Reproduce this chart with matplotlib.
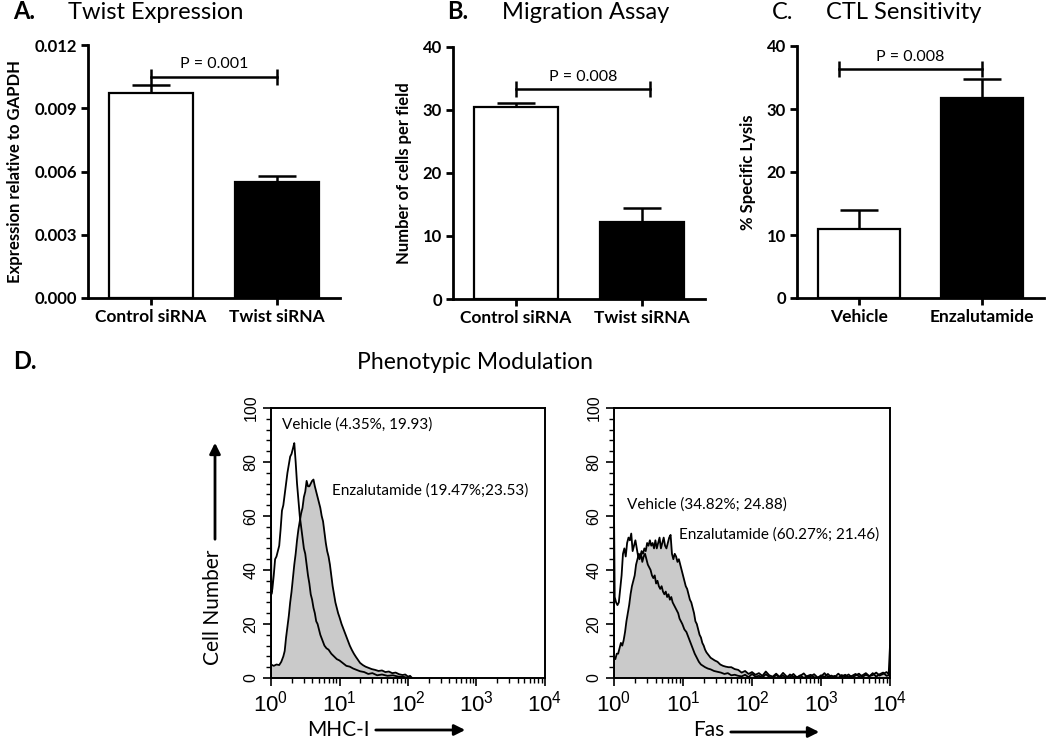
import numpy as np
import matplotlib
matplotlib.use("Agg")
import matplotlib.pyplot as plt
from matplotlib.ticker import MultipleLocator, FixedLocator, NullFormatter, LogLocator

plt.rcParams['font.family'] = ['Lato', 'DejaVu Sans']
plt.rcParams['mathtext.fontset'] = 'custom'
plt.rcParams['mathtext.rm'] = 'Liberation Sans'
plt.rcParams['mathtext.it'] = 'Liberation Sans:italic'
plt.rcParams['mathtext.bf'] = 'Liberation Sans:bold'

# ---------------- Data: bar panels ----------------
twist_cats = ['Control siRNA', 'Twist siRNA']
twist_vals = [0.0097, 0.0055]
twist_errs = [0.0004, 0.0003]
twist_yticks = [0.000, 0.003, 0.006, 0.009, 0.012]
twist_p = 'P = 0.001'
twist_bracket_x = [0.0, 1.0]
twist_bracket_y = 0.0105

mig_cats = ['Control siRNA', 'Twist siRNA']
mig_vals = [30.5, 12.3]
mig_errs = [0.55, 2.2]
mig_yticks = [0, 10, 20, 30, 40]
mig_p = 'P = 0.008'
mig_bracket_x = [0.0, 1.06]
mig_bracket_y = 33.3

ctl_cats = ['Vehicle', 'Enzalutamide']
ctl_vals = [11.0, 31.7]
ctl_errs = [2.9, 3.0]
ctl_yticks = [0, 10, 20, 30, 40]
ctl_p = 'P = 0.008'
ctl_bracket_x = [-0.16, 1.0]
ctl_bracket_y = 36.3

bar_colors = ['white', 'black']

# ---------------- Data: flow histograms (log10 intensity, cell number) ----------------
mhc_veh_log = [0.00, 0.00, 0.005, 0.02, 0.04, 0.06, 0.08, 0.10, 0.12, 0.14, 0.16,
               0.18, 0.20, 0.22, 0.24, 0.26, 0.28, 0.30, 0.32, 0.34, 0.36,
               0.38, 0.40, 0.42, 0.44, 0.46, 0.48, 0.50, 0.52, 0.54, 0.56,
               0.58, 0.60, 0.62, 0.64, 0.66, 0.68, 0.70, 0.72, 0.75, 0.78,
               0.81, 0.84, 0.88, 0.92, 0.96, 1.00, 1.05, 1.10, 1.15, 1.20,
               1.25, 1.30, 1.36, 1.42, 1.48, 1.55, 1.62, 1.70, 1.78, 1.86,
               1.94, 2.00]
mhc_veh_cnt = [0, 65, 31, 33, 38, 44, 45, 47, 49, 55, 62,
               64, 68, 72, 76, 79, 82, 83, 85, 87, 80,
               72, 66, 60, 56, 52, 48, 46, 42, 38, 35,
               31, 29, 26, 24, 21, 20, 18, 16, 14, 12,
               11, 10.5, 9, 8, 7, 6.5, 5.5, 4.5, 4.2, 3.5,
               3, 2.5, 2.2, 1.5, 1.8, 1.0, 1.3, 0.8, 1.0, 0.5,
               0.4, 0.0]

mhc_enz_log = [0.00, 0.04, 0.08, 0.12, 0.15, 0.18, 0.20, 0.22, 0.24, 0.26,
               0.28, 0.30, 0.32, 0.34, 0.36, 0.38, 0.40, 0.42, 0.44, 0.46,
               0.48, 0.50, 0.52, 0.54, 0.56, 0.58, 0.60, 0.62, 0.64, 0.66,
               0.68, 0.70, 0.72, 0.74, 0.76, 0.78, 0.80, 0.82, 0.84, 0.86,
               0.88, 0.90, 0.92, 0.94, 0.96, 0.98, 1.00,
               1.03, 1.06, 1.09, 1.12, 1.15, 1.18, 1.21, 1.24, 1.27, 1.30,
               1.34, 1.38, 1.42, 1.47, 1.52, 1.57, 1.62, 1.67, 1.72, 1.77,
               1.82, 1.87, 1.92, 1.96, 2.00, 2.03, 2.06]
mhc_enz_cnt = [5, 4.5, 5, 4.8, 6, 8, 10, 15, 19, 23,
               28, 32, 37, 42, 46, 51, 55, 58, 61, 63,
               67, 69, 73, 71, 71, 72, 73, 73.5, 71, 69,
               67, 65, 63, 60, 58, 54, 50, 47, 45, 42,
               38, 34, 31, 28, 26, 24, 22.5,
               20, 18, 16, 14, 12, 10.4, 9, 7.8, 6.7, 5.6,
               4.8, 4.2, 3.8, 3.3, 3, 2.6, 2.8, 2.2, 2.4, 1.8,
               2.0, 1.4, 1.1, 1.3, 0.5, 0.8, 0]

fas_veh_log = [0.00, 0.00, 0.01, 0.03, 0.05, 0.07, 0.09, 0.11, 0.13, 0.15,
               0.17, 0.19, 0.21, 0.23, 0.25, 0.27, 0.29, 0.31, 0.33, 0.35,
               0.37, 0.39, 0.41, 0.43, 0.45, 0.47, 0.49, 0.51, 0.53, 0.55,
               0.57, 0.59, 0.61, 0.63, 0.65, 0.67, 0.69, 0.71, 0.73, 0.75,
               0.77, 0.79, 0.81, 0.83, 0.85, 0.87, 0.89, 0.91, 0.93, 0.95,
               0.97, 0.99, 1.02, 1.05, 1.08, 1.11, 1.14, 1.17, 1.20, 1.23,
               1.26, 1.29, 1.32, 1.36, 1.40, 1.45, 1.50, 1.55, 1.60, 1.65,
               1.70, 1.75, 1.80]
fas_veh_cnt = [0, 63, 30, 28, 27, 28, 33, 38, 46, 48,
               45, 50, 52, 51, 53.5, 47, 49, 51, 48, 45,
               44, 46, 43, 45, 46, 44, 42, 41, 40, 38,
               37, 38, 35, 36, 34, 33, 34, 32, 31, 32,
               30, 31, 29, 30, 28, 27, 26, 25, 24, 22,
               21, 20, 18, 17, 15, 13, 11, 9, 7.5, 6,
               5, 4.5, 4, 3.5, 3.2, 2.6, 2.3, 2, 1.5, 1.8,
               1, 1.2, 0.8]

fas_enz_log = [0.00, 0.00, 0.02, 0.04, 0.06, 0.08, 0.10, 0.12, 0.14, 0.16,
               0.18, 0.20, 0.22, 0.24, 0.26, 0.28, 0.30, 0.32, 0.34, 0.36,
               0.38, 0.40, 0.42, 0.44, 0.46, 0.48, 0.50, 0.52, 0.54, 0.56,
               0.58, 0.60, 0.62, 0.64, 0.66, 0.68, 0.70, 0.72, 0.74, 0.76,
               0.78, 0.80, 0.82, 0.84, 0.86, 0.88, 0.90, 0.92, 0.94, 0.96,
               0.98, 1.00, 1.02, 1.04, 1.06, 1.08, 1.10, 1.12, 1.14, 1.16,
               1.18, 1.20, 1.22, 1.24, 1.26, 1.28, 1.30, 1.32, 1.34, 1.37,
               1.40, 1.43, 1.46, 1.50, 1.54, 1.58, 1.62, 1.66, 1.70, 1.75,
               1.80]
fas_enz_cnt = [0, 8, 7, 9, 9, 11, 13, 12, 14, 17,
               21, 24, 27, 31, 34, 36, 38, 42, 44, 46,
               45, 47, 46, 48, 47, 50, 49, 51, 49, 50,
               48, 51, 48, 50, 52, 48, 50, 52, 49, 48,
               50, 52, 53, 46, 44, 46, 45, 43, 44, 42,
               40, 38, 36, 34, 33, 31, 29, 28, 26, 24,
               21, 20, 18, 16, 15, 13, 12, 10.5, 9.5, 8.5,
               7.5, 7, 6.5, 6, 5, 4.5, 4.2, 4.0, 4.0, 3.3,
               3]

fas_tail_log = [1.85, 1.90, 1.95, 2.00, 2.05, 2.10, 2.15, 2.20, 2.25, 2.30,
                2.35, 2.40, 2.45, 2.50, 2.55, 2.60, 2.65, 2.70, 2.75, 2.80,
                2.85, 2.90, 2.95, 3.00, 3.05, 3.10, 3.15, 3.20, 3.25, 3.30,
                3.35, 3.40, 3.45, 3.50, 3.55, 3.60, 3.65, 3.70, 3.75, 3.80,
                3.85, 3.90, 3.95, 3.98, 4.00, 4.00]
fas_veh_tail = [0.6, 1.2, 0.3, 1.5, 0.5, 0.8, 0.2, 1.4, 0.4, 0.0,
                1.1, 0.3, 0.9, 0.0, 1.3, 0.5, 0.2, 1.0, 0.0, 0.7,
                1.2, 0.3, 0.0, 1.0, 0.4, 1.5, 0.2, 0.8, 0.0, 1.1,
                0.5, 1.3, 0.2, 0.9, 1.6, 0.4, 1.2, 0.6, 1.8, 0.5,
                1.4, 2.0, 0.8, 1.0, 12.0, 0.0]
fas_enz_tail = [2.0, 2.6, 1.5, 2.2, 1.2, 1.8, 0.8, 2.4, 1.0, 0.5,
                1.6, 0.4, 1.9, 0.6, 0.3, 1.5, 0.2, 0.8, 1.7, 0.3,
                0.6, 1.4, 0.2, 0.5, 1.8, 0.4, 0.9, 0.3, 1.6, 0.5,
                1.2, 0.3, 0.8, 1.5, 0.6, 1.0, 1.8, 0.7, 1.1, 2.0,
                0.9, 1.5, 2.2, 1.5, 1.0, 0.0]

hist_decades = [0, 1, 2, 3, 4]
hist_yticks = [0, 20, 40, 60, 80, 100]

mhc_labels = ['Vehicle (4.35%, 19.93)', 'Enzalutamide (19.47%;23.53)']
fas_labels = ['Vehicle (34.82%; 24.88)', 'Enzalutamide (60.27%; 21.46)']

# ---------------- Figure ----------------
W, H = 1050, 740
fig = plt.figure(figsize=(W / 100, H / 100), dpi=100)


def rect(left, top, right, bottom):
    return [left / W, 1 - bottom / H, (right - left) / W, (bottom - top) / H]


def fpos(x, y):
    return (x / W, 1 - y / H)


def bar_panel(r, cats, vals, errs, yticks, ylabel, fmt, bx, by, ptext):
    ax = fig.add_axes(r)
    x = np.arange(len(cats))
    ax.errorbar(x, vals, yerr=[np.zeros(len(errs)), errs], fmt='none',
                ecolor='black', elinewidth=1.8, capsize=14, capthick=1.8, zorder=1)
    ax.bar(x, vals, width=0.667, color=bar_colors, edgecolor='black',
           linewidth=1.6, zorder=2)
    ax.set_xlim(-0.5, 1.5)
    ax.set_ylim(yticks[0], yticks[-1])
    for s in ['top', 'right']:
        ax.spines[s].set_visible(False)
    for s in ['left', 'bottom']:
        ax.spines[s].set_linewidth(2.0)
    ax.set_yticks(yticks)
    ax.set_yticklabels([fmt.format(v) for v in yticks], fontsize=12, fontweight='bold')
    ax.set_xticks(x)
    ax.set_xticklabels(cats, fontsize=12.5, fontweight='bold')
    ax.tick_params(direction='out', length=5, width=2.0, pad=3)
    ax.set_ylabel(ylabel, fontsize=12, fontweight='bold', labelpad=8)
    ax.plot(bx, [by, by], color='black', lw=1.8, marker='|', ms=11, mew=1.8,
            clip_on=False, zorder=3)
    ax.annotate(ptext, xy=(np.mean(bx), by), xytext=(0, 4), textcoords='offset points',
                ha='center', va='bottom', fontsize=11.5)
    return ax


bar_panel(rect(88, 45, 340, 298), twist_cats, twist_vals, twist_errs, twist_yticks,
          'Expression relative to GAPDH', '{:.3f}', twist_bracket_x, twist_bracket_y, twist_p)
bar_panel(rect(453, 47, 705, 299), mig_cats, mig_vals, mig_errs, mig_yticks,
          'Number of cells per field', '{:d}', mig_bracket_x, mig_bracket_y, mig_p)
bar_panel(rect(797, 46, 1044, 298), ctl_cats, ctl_vals, ctl_errs, ctl_yticks,
          '% Specific Lysis', '{:d}', ctl_bracket_x, ctl_bracket_y, ctl_p)

# Panel titles
fig.text(*fpos(13, 19), 'A.', fontsize=17, fontweight='bold', va='baseline')
fig.text(*fpos(68, 19), 'Twist Expression', fontsize=17, va='baseline')
fig.text(*fpos(447, 19), 'B.', fontsize=17, fontweight='bold', va='baseline')
fig.text(*fpos(502, 19), 'Migration Assay', fontsize=17, va='baseline')
fig.text(*fpos(772, 19), 'C.', fontsize=17, va='baseline')
fig.text(*fpos(826, 19), 'CTL Sensitivity', fontsize=17, va='baseline')
fig.text(*fpos(13, 369), 'D.', fontsize=17, fontweight='bold', va='baseline')
fig.text(*fpos(475, 369), 'Phenotypic Modulation', fontsize=16.5, ha='center', va='baseline')


def hist_panel(r, vx, vy, ex, ey, labels, label_pos):
    ax = fig.add_axes(r)
    ax.set_xscale('log')
    ex_v = np.power(10.0, ex)
    vx_v = np.power(10.0, vx)
    ax.fill_between(ex_v, ey, 0, color='#cacaca', lw=0, zorder=1)
    ax.plot(ex_v, ey, color='black', lw=1.3, zorder=2)
    ax.plot(vx_v, vy, color='black', lw=1.3, zorder=3)
    ax.set_xlim(10.0 ** hist_decades[0], 10.0 ** hist_decades[-1])
    ax.set_ylim(hist_yticks[0], hist_yticks[-1])
    ax.xaxis.set_major_locator(FixedLocator([10.0 ** d for d in hist_decades]))
    ax.set_xticklabels([r'$\mathrm{10^{%d}}$' % d for d in hist_decades],
                       fontsize=16, family='Liberation Sans')
    ax.xaxis.set_minor_locator(LogLocator(base=10, subs=np.arange(2, 10)))
    ax.xaxis.set_minor_formatter(NullFormatter())
    ax.yaxis.set_major_locator(FixedLocator(hist_yticks))
    ax.yaxis.set_minor_locator(MultipleLocator(4))
    ax.set_yticklabels([str(v) for v in hist_yticks], rotation=90, va='center',
                       fontsize=11.5, family='Liberation Sans')
    ax.tick_params(which='major', direction='out', length=6, width=1.2, pad=3)
    ax.tick_params(which='minor', direction='out', length=3.5, width=1.0)
    for s in ax.spines.values():
        s.set_linewidth(1.4)
    for lab, pos in zip(labels, label_pos):
        ax.text(pos[0], pos[1], lab, transform=ax.transAxes, fontsize=11,
                ha='left', va='center')
    return ax


hist_panel(rect(271, 408, 545, 678), mhc_veh_log, mhc_veh_cnt, mhc_enz_log, mhc_enz_cnt,
           mhc_labels, [(0.04, 0.937), (0.223, 0.696)])
hist_panel(rect(614, 408, 890, 678), fas_veh_log + fas_tail_log, fas_veh_cnt + fas_veh_tail,
           fas_enz_log + fas_tail_log, fas_enz_cnt + fas_enz_tail,
           fas_labels, [(0.047, 0.644), (0.236, 0.533)])

# Axis titles with arrows
fig.text(*fpos(213, 607), 'Cell Number', fontsize=15, rotation=90, ha='center', va='center')
fig.add_artist(matplotlib.patches.FancyArrowPatch(fpos(215, 542), fpos(215, 440),
               transform=fig.transFigure, arrowstyle='-|>', mutation_scale=16,
               lw=2.0, color='black'))
fig.text(*fpos(338, 730), 'MHC-I', fontsize=15, ha='center', va='center')
fig.add_artist(matplotlib.patches.FancyArrowPatch(fpos(373, 730), fpos(468, 730),
               transform=fig.transFigure, arrowstyle='-|>', mutation_scale=16,
               lw=2.0, color='black'))
fig.text(*fpos(709, 730), 'Fas', fontsize=15, ha='center', va='center')
fig.add_artist(matplotlib.patches.FancyArrowPatch(fpos(728, 732), fpos(822, 732),
               transform=fig.transFigure, arrowstyle='-|>', mutation_scale=16,
               lw=2.0, color='black'))

fig.savefig('out.png', dpi=100)
